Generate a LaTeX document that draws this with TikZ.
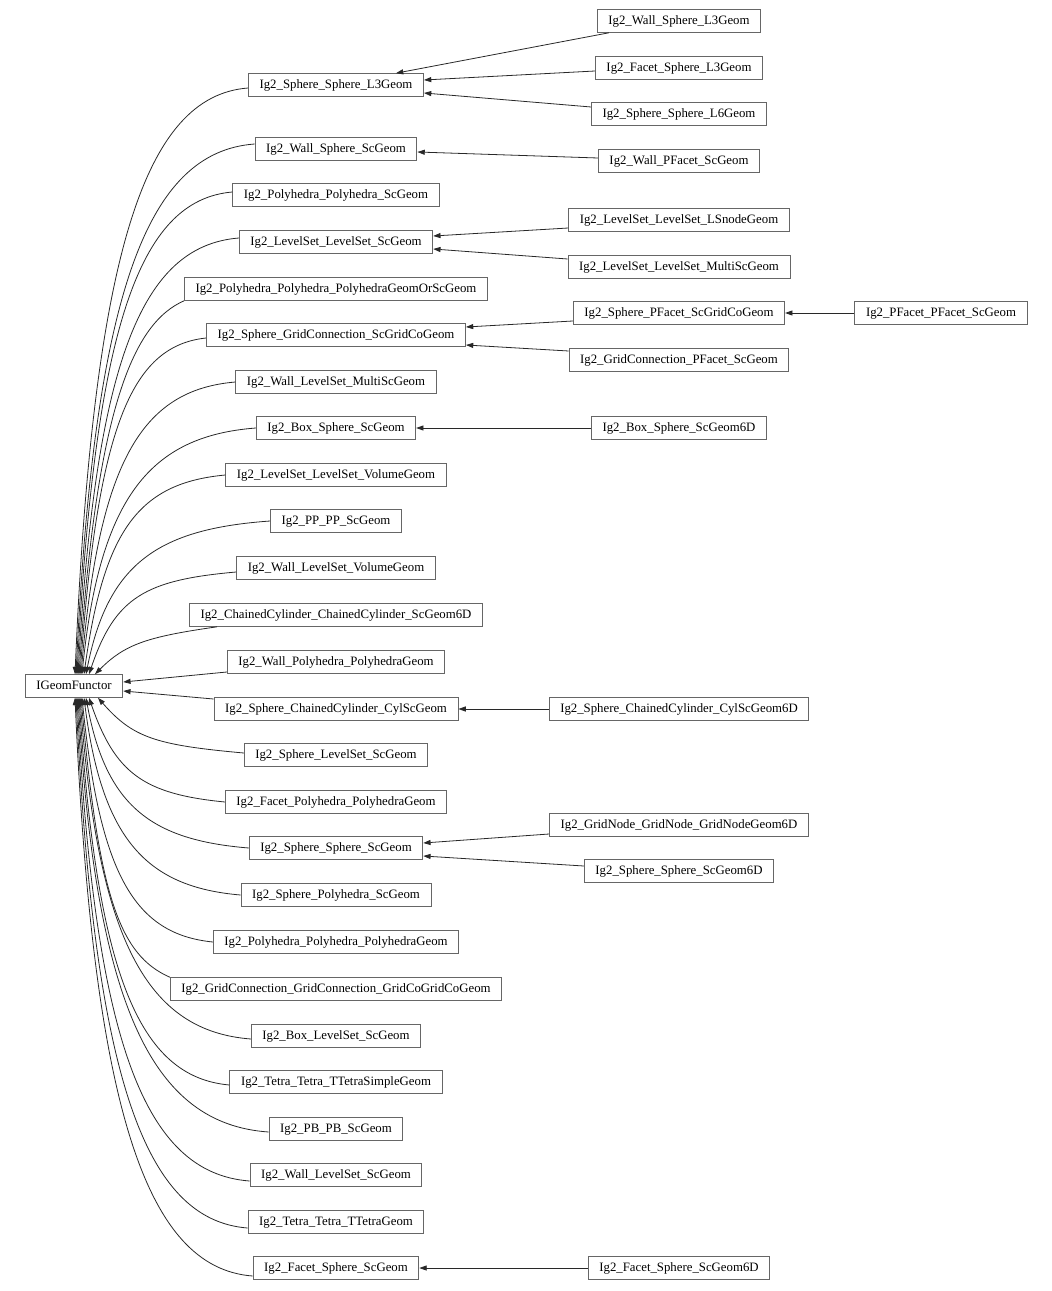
\documentclass[tikz,border=0pt]{standalone}
\usepackage{fontspec}
\setmainfont{Liberation Serif}
\usetikzlibrary{arrows.meta,calc}
\definecolor{boxc}{RGB}{102,102,102}
\definecolor{edgec}{RGB}{40,40,40}
\begin{document}
\begin{tikzpicture}[x=0.75pt,y=-0.75pt,
  box/.style={draw=boxc, line width=0.7pt, fill=white, inner xsep=8.3pt, inner ysep=0pt,
    minimum height=17pt, text height=7pt, text depth=2pt, font=\fontsize{9.6}{11}\selectfont},
  e/.style={draw=edgec, line width=0.6pt, -{Triangle[length=5.5pt,width=3.8pt]}}]
\useasboundingbox (0,0) rectangle (1052,1291);
% root
\node[box] (root) at (74,686) {IGeomFunctor};
% middle column
\node[box] (m1) at (336,85) {Ig2\_Sphere\_Sphere\_L3Geom};
\node[box] (m2) at (336,149) {Ig2\_Wall\_Sphere\_ScGeom};
\node[box] (m3) at (336,195) {Ig2\_Polyhedra\_Polyhedra\_ScGeom};
\node[box] (m4) at (336,242) {Ig2\_LevelSet\_LevelSet\_ScGeom};
\node[box] (m5) at (336,289) {Ig2\_Polyhedra\_Polyhedra\_PolyhedraGeomOrScGeom};
\node[box] (m6) at (336,335) {Ig2\_Sphere\_GridConnection\_ScGridCoGeom};
\node[box] (m7) at (336,382) {Ig2\_Wall\_LevelSet\_MultiScGeom};
\node[box] (m8) at (336,428) {Ig2\_Box\_Sphere\_ScGeom};
\node[box] (m9) at (336,475) {Ig2\_LevelSet\_LevelSet\_VolumeGeom};
\node[box] (m10) at (336,521) {Ig2\_PP\_PP\_ScGeom};
\node[box] (m11) at (336,568) {Ig2\_Wall\_LevelSet\_VolumeGeom};
\node[box] (m12) at (336,615) {Ig2\_ChainedCylinder\_ChainedCylinder\_ScGeom6D};
\node[box] (m13) at (336,662) {Ig2\_Wall\_Polyhedra\_PolyhedraGeom};
\node[box] (m14) at (336,709) {Ig2\_Sphere\_ChainedCylinder\_CylScGeom};
\node[box] (m15) at (336,755) {Ig2\_Sphere\_LevelSet\_ScGeom};
\node[box] (m16) at (336,802) {Ig2\_Facet\_Polyhedra\_PolyhedraGeom};
\node[box] (m17) at (336,848) {Ig2\_Sphere\_Sphere\_ScGeom};
\node[box] (m18) at (336,895) {Ig2\_Sphere\_Polyhedra\_ScGeom};
\node[box] (m19) at (336,942) {Ig2\_Polyhedra\_Polyhedra\_PolyhedraGeom};
\node[box] (m20) at (336,989) {Ig2\_GridConnection\_GridConnection\_GridCoGridCoGeom};
\node[box] (m21) at (336,1036) {Ig2\_Box\_LevelSet\_ScGeom};
\node[box] (m22) at (336,1082) {Ig2\_Tetra\_Tetra\_TTetraSimpleGeom};
\node[box] (m23) at (336,1129) {Ig2\_PB\_PB\_ScGeom};
\node[box] (m24) at (336,1175) {Ig2\_Wall\_LevelSet\_ScGeom};
\node[box] (m25) at (336,1222) {Ig2\_Tetra\_Tetra\_TTetraGeom};
\node[box] (m26) at (336,1268) {Ig2\_Facet\_Sphere\_ScGeom};
% right column
\node[box] (r1) at (679,21) {Ig2\_Wall\_Sphere\_L3Geom};
\node[box] (r2) at (679,68) {Ig2\_Facet\_Sphere\_L3Geom};
\node[box] (r3) at (679,114) {Ig2\_Sphere\_Sphere\_L6Geom};
\node[box] (r4) at (679,161) {Ig2\_Wall\_PFacet\_ScGeom};
\node[box] (r5) at (679,220) {Ig2\_LevelSet\_LevelSet\_LSnodeGeom};
\node[box] (r6) at (679,267) {Ig2\_LevelSet\_LevelSet\_MultiScGeom};
\node[box] (r7) at (679,313) {Ig2\_Sphere\_PFacet\_ScGridCoGeom};
\node[box] (r8) at (679,360) {Ig2\_GridConnection\_PFacet\_ScGeom};
\node[box] (r9) at (679,428) {Ig2\_Box\_Sphere\_ScGeom6D};
\node[box] (r10) at (679,709) {Ig2\_Sphere\_ChainedCylinder\_CylScGeom6D};
\node[box] (r11) at (679,825) {Ig2\_GridNode\_GridNode\_GridNodeGeom6D};
\node[box] (r12) at (679,871) {Ig2\_Sphere\_Sphere\_ScGeom6D};
\node[box] (r13) at (679,1268) {Ig2\_Facet\_Sphere\_ScGeom6D};
\node[box] (f1) at (941,313) {Ig2\_PFacet\_PFacet\_ScGeom};
% edges right column -> middle column
\draw[e] ($(r1.south west)+(12,0)$) -- ($(m1.north east)+(-28,0)$);
\draw[e] ($(r2.west)+(0,3)$) -- ($(m1.east)+(0,-5)$);
\draw[e] ($(r3.west)+(0,-7)$) -- ($(m1.east)+(0,8)$);
\draw[e] ($(r4.west)+(0,-3)$) -- ($(m2.east)+(0,3)$);
\draw[e] ($(r5.west)+(0,8)$) -- ($(m4.east)+(0,-6)$);
\draw[e] ($(r6.west)+(0,-8)$) -- ($(m4.east)+(0,7)$);
\draw[e] ($(r7.west)+(0,8)$) -- ($(m6.east)+(0,-8)$);
\draw[e] ($(r8.west)+(0,-9)$) -- ($(m6.east)+(0,10)$);
\draw[e] (f1.west) -- (r7.east);
\draw[e] (r9.west) -- (m8.east);
\draw[e] (r10.west) -- (m14.east);
\draw[e] ($(r11.west)+(0,9)$) -- ($(m17.east)+(0,-5)$);
\draw[e] ($(r12.west)+(0,-5)$) -- ($(m17.east)+(0,8)$);
\draw[e] (r13.west) -- (m26.east);
% edges middle column -> root (above)
\draw[e] ($(m1.west)+(0,3)$) .. controls +(-104,8) and +(18,-420) .. ($(root.north)+(1,0)$);
\draw[e] ($(m2.west)+(0,-5)$) .. controls +(-109,8) and +(18,-379) .. ($(root.north)+(2,0)$);
\draw[e] ($(m3.west)+(0,-3)$) .. controls +(-94,8) and +(18,-346) .. ($(root.north)+(3,0)$);
\draw[e] ($(m4.west)+(0,-4)$) .. controls +(-98,8) and +(18,-312) .. ($(root.north)+(4,0)$);
\draw[e] (m5.south west) .. controls +(-50,22) and +(18,-270) .. ($(root.north)+(5,0)$);
\draw[e] ($(m6.west)+(0,3)$) .. controls +(-76,8) and +(18,-245) .. ($(root.north)+(6,0)$);
\draw[e] (m7.west) .. controls +(-95,8) and +(18,-211) .. ($(root.north)+(7,0)$);
\draw[e] (m8.west) .. controls +(-105,8) and +(18,-178) .. ($(root.north)+(8,0)$);
\draw[e] (m9.west) .. controls +(-87,8) and +(20,-144) .. ($(root.north)+(10,0)$);
\draw[e] (m10.west) .. controls +(-112,8) and +(22,-111) .. ($(root.north)+(12,0)$);
\draw[e] ($(m11.west)+(0,4)$) .. controls +(-91,8) and +(26,-77) .. ($(root.north)+(15,0)$);
\draw[e] ($(m12.south west)+(28,0)$) .. controls +(-70,10) and +(30,-30) .. ($(root.north)+(21,0)$);
% straight edges to root
\draw[e] ($(m13.west)+(0,10)$) -- ($(root.east)+(0,-4)$);
\draw[e] ($(m14.west)+(0,-10)$) -- ($(root.east)+(0,5)$);
% edges middle column -> root (below)
\draw[e] ($(m15.west)+(0,-2)$) .. controls +(-88,-8) and +(35,40) .. ($(root.south)+(24,0)$);
\draw[e] (m16.west) .. controls +(-82,-8) and +(26,75) .. ($(root.south)+(15,0)$);
\draw[e] (m17.west) .. controls +(-98,-8) and +(20,108) .. ($(root.south)+(12,0)$);
\draw[e] (m18.west) .. controls +(-94,-8) and +(18,142) .. ($(root.south)+(10,0)$);
\draw[e] (m19.west) .. controls +(-79,-8) and +(18,176) .. ($(root.south)+(8,0)$);
\draw[e] (m20.north west) .. controls +(-50,-22) and +(18,200) .. ($(root.south)+(7,0)$);
\draw[e] ($(m21.west)+(0,3)$) .. controls +(-104,-8) and +(18,243) .. ($(root.south)+(6,0)$);
\draw[e] ($(m22.west)+(0,3)$) .. controls +(-91,-8) and +(18,276) .. ($(root.south)+(5,0)$);
\draw[e] ($(m23.west)+(0,3)$) .. controls +(-116,-8) and +(18,310) .. ($(root.south)+(4,0)$);
\draw[e] ($(m24.west)+(0,6)$) .. controls +(-106,-8) and +(18,343) .. ($(root.south)+(3,0)$);
\draw[e] ($(m25.west)+(0,6)$) .. controls +(-104,-8) and +(18,377) .. ($(root.south)+(2,0)$);
\draw[e] ($(m26.west)+(0,8)$) .. controls +(-107,-8) and +(18,410) .. ($(root.south)+(1,0)$);
\end{tikzpicture}
\end{document}
